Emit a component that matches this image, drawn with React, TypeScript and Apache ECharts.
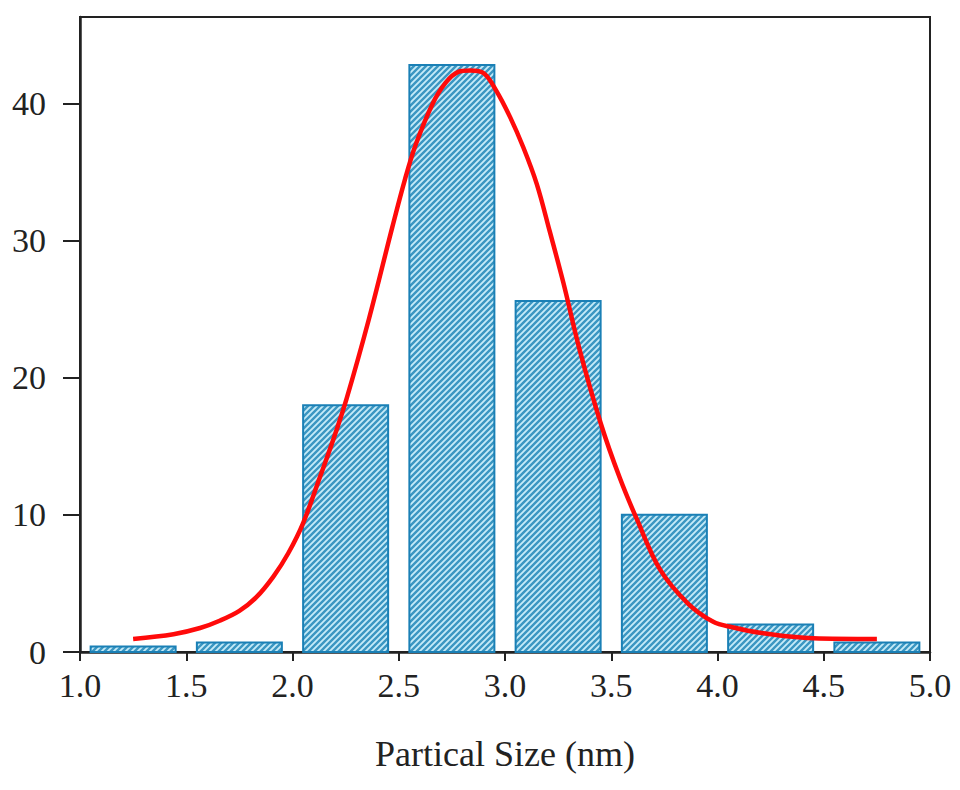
import { useEffect, useRef } from "react";
import * as echarts from "echarts";

// bin centres and heights of the histogram
const binCenters = [1.25, 1.75, 2.25, 2.75, 3.25, 3.75, 4.25, 4.75];
const binCounts = [0.4, 0.7, 18, 42.8, 25.6, 10, 2, 0.7];
const binWidth = 0.4;

// fitted curve
const fitX = [
  1.25, 1.44, 1.565, 1.66, 1.75, 1.83, 1.91, 1.98, 2.05, 2.13, 2.19, 2.255, 2.36,
  2.47, 2.53, 2.58, 2.66, 2.72, 2.78, 2.835, 2.9, 2.96, 3.024, 3.086, 3.15, 3.21,
  3.275, 3.35, 3.45, 3.54, 3.62, 3.73, 3.86, 3.98, 4.07, 4.2, 4.45, 4.75,
];
const fitY = [
  0.95, 1.3, 1.75, 2.3, 3.0, 4.0, 5.5, 7.2, 9.4, 12.8, 15.4, 18.5, 24.3, 31, 34.5,
  37.0, 40.0, 41.5, 42.3, 42.4, 42.2, 40.9, 39.0, 36.8, 34.1, 30.7, 26.9, 22.1,
  16.7, 12.7, 9.7, 6.0, 3.55, 2.2, 1.8, 1.4, 1.0, 0.95,
];

const yTicks = [0, 10, 20, 30, 40];

const FONT = "'Liberation Serif', 'DejaVu Serif', serif";

const makeHatch = () => {
  const c = document.createElement("canvas");
  const n = 6;
  c.width = n;
  c.height = n;
  const ctx = c.getContext("2d");
  if (ctx) {
    ctx.fillStyle = "#c6ebf8";
    ctx.fillRect(0, 0, n, n);
    ctx.strokeStyle = "#3b96c2";
    ctx.lineWidth = 2.4;
    ctx.beginPath();
    ctx.moveTo(0, n);
    ctx.lineTo(n, 0);
    ctx.moveTo(-1, 1);
    ctx.lineTo(1, -1);
    ctx.moveTo(n - 1, n + 1);
    ctx.lineTo(n + 1, n - 1);
    ctx.stroke();
  }
  return c.toDataURL();
};

const App = () => {
  const chartRef = useRef(null);

  useEffect(() => {
    document.body.style.margin = "0";
    const chart = echarts.init(chartRef.current, null, { renderer: "svg" });
    const hatch = makeHatch();

    const options = {
      animation: false,
      backgroundColor: "#ffffff",
      grid: {
        left: 80,
        right: 30,
        top: 17,
        bottom: 138,
        show: true,
        borderColor: "#222",
        borderWidth: 2,
        backgroundColor: "transparent",
      },
      xAxis: {
        type: "value",
        min: 1,
        max: 5,
        interval: 0.5,
        name: "Partical Size (nm)",
        nameLocation: "middle",
        nameGap: 84,
        nameTextStyle: { fontFamily: FONT, fontSize: 36, color: "#222" },
        axisLine: { show: true, lineStyle: { color: "#222", width: 2.5 } },
        axisTick: { show: true, inside: false, length: 9, lineStyle: { color: "#222", width: 2 } },
        axisLabel: {
          margin: 16,
          fontFamily: FONT,
          fontSize: 34,
          color: "#222",
          formatter: (v: number) => v.toFixed(1),
        },
        splitLine: { show: false },
      },
      yAxis: {
        type: "value",
        min: 0,
        max: 46.3,
        interval: 10,
        axisLine: { show: true, lineStyle: { color: "#222", width: 2.5 } },
        axisTick: {
          show: true,
          inside: false,
          length: 17,
          customValues: yTicks,
          lineStyle: { color: "#222", width: 2 },
        },
        axisLabel: {
          margin: 34,
          fontFamily: FONT,
          fontSize: 34,
          color: "#222",
          customValues: yTicks,
        },
        splitLine: { show: false },
      },
      series: [
        {
          type: "custom",
          data: binCenters.map((x, i) => [x, binCounts[i]]),
          renderItem: (params: any, api: any) => {
            const x = api.value(0);
            const y = api.value(1);
            const p0 = api.coord([x - binWidth / 2, y]);
            const p1 = api.coord([x + binWidth / 2, 0]);
            return {
              type: "rect",
              shape: { x: p0[0], y: p0[1], width: p1[0] - p0[0], height: p1[1] - p0[1] },
              style: {
                fill: { image: hatch, repeat: "repeat" },
                stroke: "#1a80b6",
                lineWidth: 2,
              },
            };
          },
          z: 2,
        },
        {
          type: "line",
          data: fitX.map((x, i) => [x, fitY[i]]),
          smooth: 0.35,
          symbol: "none",
          lineStyle: { color: "#ff0a0a", width: 4.5 },
          z: 3,
        },
      ],
    };

    chart.setOption(options);

    const handleResize = () => chart.resize();
    window.addEventListener("resize", handleResize);

    return () => {
      window.removeEventListener("resize", handleResize);
      chart.dispose();
    };
  }, []);

  return <div ref={chartRef} style={{ width: "960px", height: "790px" }} />;
};

export default App;
